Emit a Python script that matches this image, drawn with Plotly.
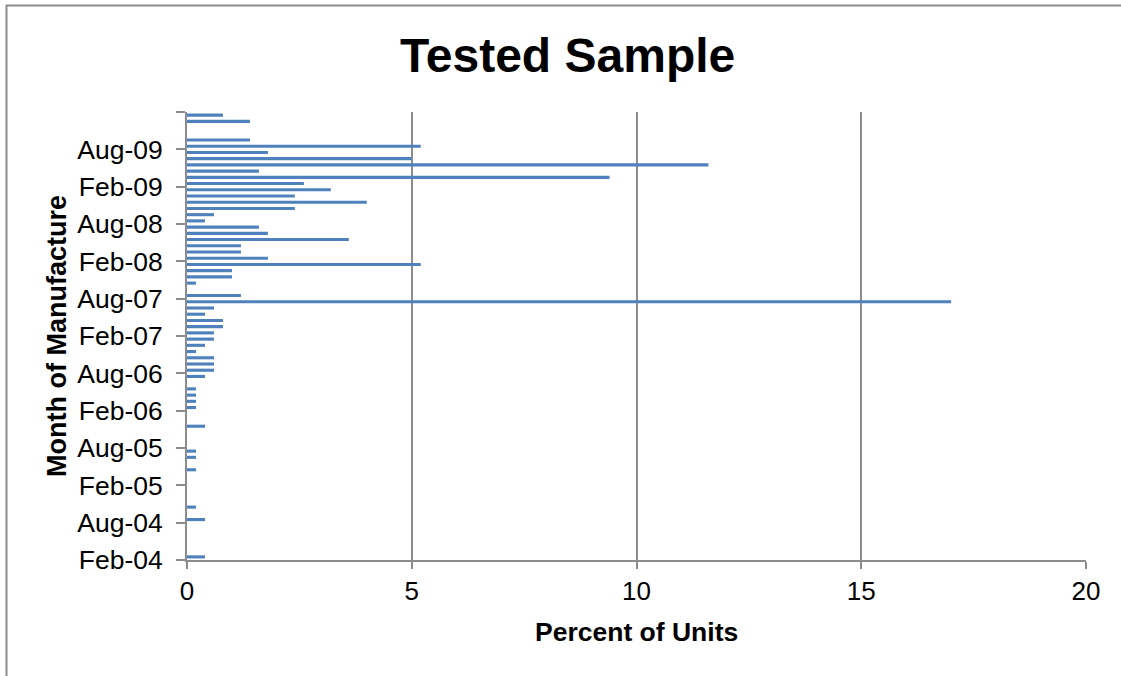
import plotly.graph_objects as go
import pandas as pd

# Month of manufacture (bars) and percent of units
months = ["Feb-04", "Aug-04", "Oct-04", "Apr-05", "Jun-05", "Jul-05", "Nov-05",
          "Feb-06", "Mar-06", "Apr-06", "May-06", "Jul-06", "Aug-06", "Sep-06",
          "Oct-06", "Nov-06", "Dec-06", "Jan-07", "Feb-07", "Mar-07", "Apr-07",
          "May-07", "Jun-07", "Jul-07", "Aug-07", "Oct-07", "Nov-07", "Dec-07",
          "Jan-08", "Feb-08", "Mar-08", "Apr-08", "May-08", "Jun-08", "Jul-08",
          "Aug-08", "Sep-08", "Oct-08", "Nov-08", "Dec-08", "Jan-09", "Feb-09",
          "Mar-09", "Apr-09", "May-09", "Jun-09", "Jul-09", "Aug-09", "Sep-09",
          "Dec-09", "Jan-10"]
percent = [0.4, 0.4, 0.2, 0.2, 0.2, 0.2, 0.4,
           0.2, 0.2, 0.2, 0.2, 0.4, 0.6, 0.6,
           0.6, 0.2, 0.4, 0.6, 0.6, 0.8, 0.8,
           0.4, 0.6, 17.0, 1.2, 0.2, 1.0, 1.0,
           5.2, 1.8, 1.2, 1.2, 3.6, 1.8, 1.6,
           0.4, 0.6, 2.4, 4.0, 2.4, 3.2, 2.6,
           9.4, 1.6, 11.6, 5.0, 1.8, 5.2, 1.4,
           1.4, 0.8]

tick_labels = ["Feb-04", "Aug-04", "Feb-05", "Aug-05", "Feb-06", "Aug-06",
               "Feb-07", "Aug-07", "Feb-08", "Aug-08", "Feb-09", "Aug-09", ""]
x_ticks = [0, 5, 10, 15, 20]

start = pd.Period("2004-02", freq="M")
def month_pos(label):
    p = pd.Period(pd.to_datetime(label, format="%b-%y"), freq="M")
    return (p - start).n

ypos = [month_pos(m) + 0.5 for m in months]
tick_pos = [month_pos(t) if t else month_pos("Feb-10") for t in tick_labels]

FONT = "Arial, Liberation Sans, sans-serif"
GRAY = "#8c8c8c"

fig = go.Figure(go.Bar(
    x=percent, y=ypos, orientation="h", width=0.5,
    marker=dict(color="#4f81bd", line=dict(width=0)),
))

W, H = 1121, 676
L, R, T, B = 187, 35, 112, 116
pw, ph = W - L - R, H - T - B
def px_x(px):
    return (px - L) / pw
def px_y(py):
    return (H - B - py) / ph

fig.update_layout(
    width=W, height=H,
    margin=dict(l=L, r=R, t=T, b=B),
    paper_bgcolor="white", plot_bgcolor="white",
    showlegend=False,
    font=dict(family=FONT, size=26, color="black"),
    xaxis=dict(range=[0, 20], tickvals=x_ticks, showgrid=True, gridcolor=GRAY,
               gridwidth=2, showline=True, linecolor=GRAY, linewidth=2,
               ticks="outside", ticklen=7, tickwidth=2, tickcolor=GRAY,
               zeroline=False, tickfont=dict(size=26)),
    yaxis=dict(range=[0, 72], tickvals=tick_pos, ticktext=tick_labels,
               showgrid=False, showline=True, linecolor=GRAY, linewidth=2,
               ticks="outside", ticklen=9, tickwidth=2, tickcolor=GRAY,
               ticklabelstandoff=8,
               zeroline=False, tickfont=dict(size=26.5)),
    annotations=[
        dict(text="<b>Tested Sample</b>", x=px_x(567), y=px_y(55), xref="paper", yref="paper",
             showarrow=False, font=dict(size=48), xanchor="center", yanchor="middle"),
        dict(text="<b>Percent of Units</b>", x=0.5, y=px_y(632), xref="paper", yref="paper",
             showarrow=False, font=dict(size=26.5), xanchor="center", yanchor="middle"),
        dict(text="<b>Month of Manufacture</b>", x=px_x(57), y=0.5, xref="paper", yref="paper",
             showarrow=False, font=dict(size=27), textangle=-90,
             xanchor="center", yanchor="middle"),
    ],
    shapes=[
        dict(type="rect", xref="paper", yref="paper",
             x0=px_x(6.5), x1=px_x(1160), y0=px_y(700), y1=px_y(5.5),
             line=dict(color=GRAY, width=2), fillcolor="rgba(0,0,0,0)", layer="below"),
    ],
)

fig.write_html("out.html", config={"displayModeBar": False},
               post_script="document.body.style.margin='0px';document.body.style.overflow='hidden';")
